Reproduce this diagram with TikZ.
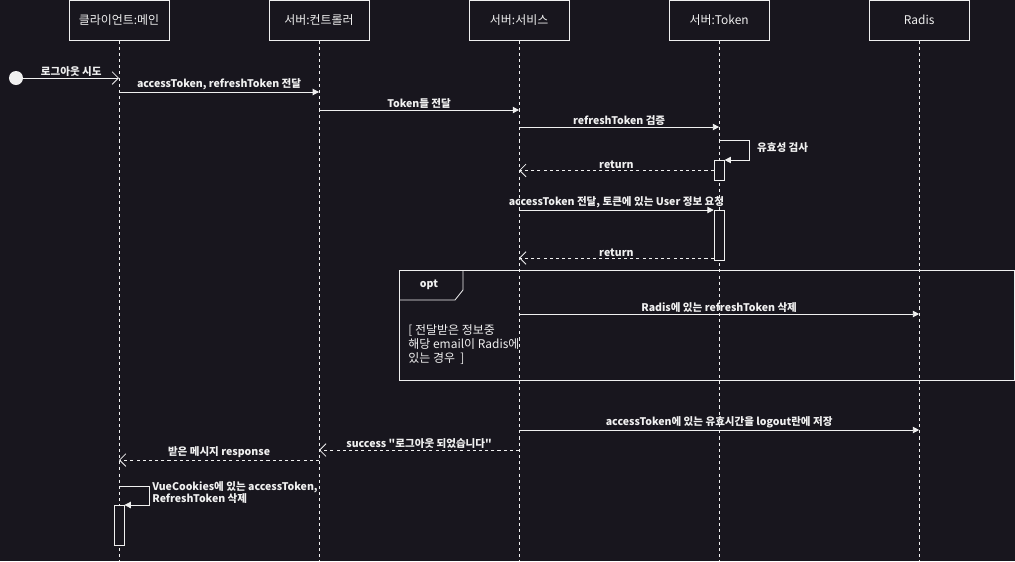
\documentclass[tikz,border=0pt]{standalone}
\usepackage{fontspec}
\setmainfont{Noto Sans CJK KR}[Ligatures=TeXOff]
\usetikzlibrary{arrows.meta,positioning}
\definecolor{darkbg}{RGB}{24,22,30}
\definecolor{lineclr}{RGB}{240,240,240}

\begin{document}
\begin{tikzpicture}[x=0.025cm,y=-0.025cm,node distance=5cm,on grid,line width=0.6pt,
    every node/.style={text=lineclr,font=\fontsize{7.5}{9}\selectfont},
    head/.style={rectangle,draw=lineclr,fill=darkbg,minimum width=2.5cm,minimum height=1cm,
      font=\fontsize{8.5}{10}\selectfont},
    life/.style={draw=lineclr,dash pattern=on 2.2pt off 2.2pt},
    msg/.style={draw=lineclr,-{Triangle[length=4.5pt,width=4.5pt]}},
    reply/.style={draw=lineclr,dash pattern=on 2.2pt off 2.2pt,-{Straight Barb[length=4.5pt,width=9pt]}},
    act/.style={rectangle,draw=lineclr,fill=darkbg,minimum width=0.25cm,inner sep=0pt,anchor=north},
    lbl/.style={above=1pt,inner sep=0pt,font=\fontsize{7.5}{9}\selectfont\bfseries}]
  \fill[darkbg] (0,0) rectangle (1015,561);
  \useasboundingbox (0,0) rectangle (1015,561);

  % lifelines
  \node[head] (cli) at (119,20) {클라이언트:메인};
  \node[head,right=of cli] (ctl) {서버:컨트롤러};
  \node[head,right=of ctl] (svc) {서버:서비스};
  \node[head,right=of svc] (tok) {서버:Token};
  \node[head,right=of tok] (rad) {Radis};
  \foreach \n in {cli,ctl,svc,tok,rad}
    \draw[life] (\n.south) -- (\n.south |- 0,561);

  % opt frame
  \draw[draw=lineclr] (399,270) rectangle (1014,380);
  \draw[draw=lineclr] (399,300) -- (455,300) -- (463,290) -- (463,270);
  \node[font=\fontsize{7.5}{9}\selectfont\bfseries] (optlbl) at (429,285) {opt};
  \begin{scope}
    \clip (400,320) rectangle (520,375);
    \node[anchor=north west,align=left,inner sep=0pt,font=\fontsize{8.5}{10}\selectfont] (guard) at (408,324)
      {[ 전달받은 정보중\\해당 email이 Radis에\\있는 경우 \ ]};
  \end{scope}

  % activations
  \node[act,minimum height=0.5cm] (act1) at (tok.south |- 0,160) {};
  \node[act,minimum height=1.25cm] (act2) at (tok.south |- 0,210) {};
  \node[act,minimum height=1cm] (act3) at (cli.south |- 0,505) {};

  % messages
  \node[circle,fill=lineclr,minimum size=0.35cm,inner sep=0pt] (start) at (16,78) {};
  \draw[draw=lineclr,-{Straight Barb[length=4.5pt,width=9pt]}] (start) -- node[lbl] {로그아웃 시도} (cli.south |- 0,78);
  \draw[msg] (cli.south |- 0,92) -- node[lbl] {accessToken, refreshToken 전달} (ctl.south |- 0,92);
  \draw[msg] (ctl.south |- 0,110) -- node[lbl] {Token들 전달} (svc.south |- 0,110);
  \draw[msg] (svc.south |- 0,127) -- node[lbl] {refreshToken 검증} (tok.south |- 0,127);
  \draw[msg] (tok.south |- 0,140) -- ++(30,0) |- (act1.north east);
  \node[anchor=west,font=\fontsize{7.5}{9}\selectfont\bfseries] (chk) at (752,148) {유효성 검사};
  \draw[reply] (act1.west) -- node[lbl] {return} (svc.south |- act1.west);
  \draw[msg] (svc.south |- 0,210) -- node[lbl] {accessToken 전달, 토큰에 있는 User 정보 요청} (act2.north west);
  \draw[reply] (act2.west |- 0,258) -- node[lbl] {return} (svc.south |- 0,258);
  \draw[msg] (svc.south |- 0,314) -- node[lbl] {Radis에 있는 refreshToken 삭제} (rad.south |- 0,314);
  \draw[msg] (svc.south |- 0,430) -- node[lbl] {accessToken에 있는 유효시간을 logout란에 저장} (rad.south |- 0,430);
  \draw[reply] (svc.south |- 0,450) -- node[lbl] {success "로그아웃 되었습니다"} (ctl.south |- 0,450);
  \draw[reply] (ctl.south |- 0,460) -- node[lbl] {받은 메시지 response} (cli.south |- 0,460);
  \draw[msg] (cli.south |- 0,486) -- ++(30,0) |- (act3.north east);
  \node[anchor=north west,align=left,inner sep=0pt,font=\fontsize{7.5}{9}\selectfont\bfseries] (del) at (152,481)
    {VueCookies에 있는 accessToken,\\RefreshToken 삭제};
\end{tikzpicture}
\end{document}
